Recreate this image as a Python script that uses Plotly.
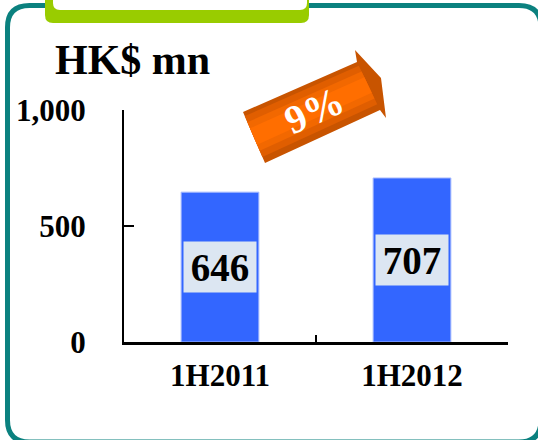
import plotly.graph_objects as go

# ---- data ----
categories = ["1H2011", "1H2012"]
values = [646, 707]
value_labels = ["646", "707"]
growth_label = "9%"
unit_label = "HK$ mn"
y_tickvals = [0, 500, 1000]
y_ticktext = ["0", "500", "1,000"]

FONT = "Liberation Serif, Times New Roman, serif"

# plot area in pixels (figure 538x440)
W, H = 538, 440
L, R, T, B = 124, 508, 110, 342


def fx(px):
    return (px - L) / (R - L)


def fy(py):
    return (B - py) / (B - T)


def path(points, close=True):
    s = ""
    for cmd, pts in points:
        s += cmd + " " + " ".join(f"{fx(a):.5f},{fy(b):.5f}" for a, b in pts) + " "
    if close:
        s += "Z"
    return s


fig = go.Figure()
fig.add_trace(go.Bar(
    x=categories, y=values,
    marker=dict(color="#3366ff", line=dict(color="#a8bcff", width=1)),
    width=0.405, hoverinfo="skip",
))

shapes = []
# teal rounded border
x0, y0, x1, y1, r = 7.5, 5.5, 541, 442, 22
shapes.append(dict(
    type="path", xref="paper", yref="paper", layer="below",
    path=path([
        ("M", [(x0 + r, y0)]), ("L", [(x1 - r, y0)]), ("Q", [(x1, y0), (x1, y0 + r)]),
        ("L", [(x1, y1 - r)]), ("Q", [(x1, y1), (x1 - r, y1)]),
        ("L", [(x0 + r, y1)]), ("Q", [(x0, y1), (x0, y1 - r)]),
        ("L", [(x0, y0 + r)]), ("Q", [(x0, y0), (x0 + r, y0)]),
    ]),
    line=dict(color="#0b817f", width=5), fillcolor="rgba(0,0,0,0)",
))
# green tab
shapes.append(dict(
    type="path", xref="paper", yref="paper", layer="below",
    path=path([
        ("M", [(45, -10)]), ("L", [(45, 15)]), ("Q", [(45, 23), (53, 23)]),
        ("L", [(301, 23)]), ("Q", [(309, 23), (309, 15)]), ("L", [(309, -10)]),
    ]),
    line=dict(width=0), fillcolor="#99cc00",
))
shapes.append(dict(
    type="path", xref="paper", yref="paper", layer="below",
    path=path([
        ("M", [(53, -10)]), ("L", [(53, 3)]), ("Q", [(53, 10), (60, 10)]),
        ("L", [(300, 10)]), ("Q", [(307, 10), (307, 3)]), ("L", [(307, -10)]),
    ]),
    line=dict(width=0), fillcolor="white",
))

# orange arrow (layered for a gradient look)
arrow = [(243, 112), (357, 62), (355, 50), (381, 78), (386, 118), (380, 110), (265, 163)]


def poly(pts):
    return path([("M", [pts[0]])] + [("L", [p]) for p in pts[1:]])


shapes.append(dict(type="path", xref="paper", yref="paper", path=poly(arrow),
                   line=dict(width=0), fillcolor="#c85400"))
top_l, top_r = (243, 112), (357, 62)
bot_l, bot_r = (265, 163), (380, 110)


def lerp(a, b, t):
    return (a[0] + (b[0] - a[0]) * t, a[1] + (b[1] - a[1]) * t)


for t0, t1, col in [(0.08, 0.88, "#e05e00"), (0.2, 0.76, "#f26800"), (0.32, 0.64, "#ff6e00")]:
    band = [lerp(top_l, bot_l, t0), lerp(top_r, bot_r, t0),
            lerp(top_r, bot_r, t1), lerp(top_l, bot_l, t1)]
    shapes.append(dict(type="path", xref="paper", yref="paper", path=poly(band),
                       line=dict(width=0), fillcolor=col))

annotations = [
    dict(x=fx(132), y=fy(60), xref="paper", yref="paper", text=f"<b>{unit_label}</b>",
         showarrow=False, font=dict(family=FONT, size=42, color="black"),
         xanchor="center", yanchor="middle"),
    dict(x=fx(314), y=fy(110), xref="paper", yref="paper", text=f"<b>{growth_label}</b>",
         showarrow=False, textangle=-24, font=dict(family=FONT, size=40, color="white"),
         xanchor="center", yanchor="middle"),
]
for c, v, lab in zip(categories, values, value_labels):
    annotations.append(dict(
        x=c, y=v / 2, xref="x", yref="y", text=f"<b>{lab}</b>", showarrow=False,
        font=dict(family=FONT, size=39, color="black"), bgcolor="#dce6f2",
        width=72, height=50, borderpad=0, xanchor="center", yanchor="middle",
    ))

fig.update_layout(
    width=W, height=H,
    margin=dict(l=L, r=W - R, t=T, b=H - B, pad=0),
    paper_bgcolor="white", plot_bgcolor="white",
    showlegend=False, bargap=0.595,
    shapes=shapes, annotations=annotations,
    xaxis=dict(
        showline=True, linecolor="black", linewidth=3, ticks="inside", tickson="boundaries",
        ticklen=7, tickwidth=1.5, tickcolor="black", showgrid=False,
        tickfont=dict(family=FONT, size=31, color="black", weight="bold"),
        ticklabelstandoff=4, range=[-0.5, 1.5], fixedrange=True,
    ),
    yaxis=dict(
        showline=True, linecolor="black", linewidth=2, ticks="inside", ticklen=10,
        tickwidth=2, tickcolor="black", showgrid=False, zeroline=False,
        range=[0, 1000], tickvals=y_tickvals, ticktext=y_ticktext,
        tickfont=dict(family=FONT, size=31, color="black", weight="bold"),
        ticklabelstandoff=30, fixedrange=True,
    ),
    font=dict(family=FONT),
)

fig.write_html(
    "out.html",
    config={"displayModeBar": False},
    post_script="document.body.style.margin='0';document.body.style.padding='0';",
)
